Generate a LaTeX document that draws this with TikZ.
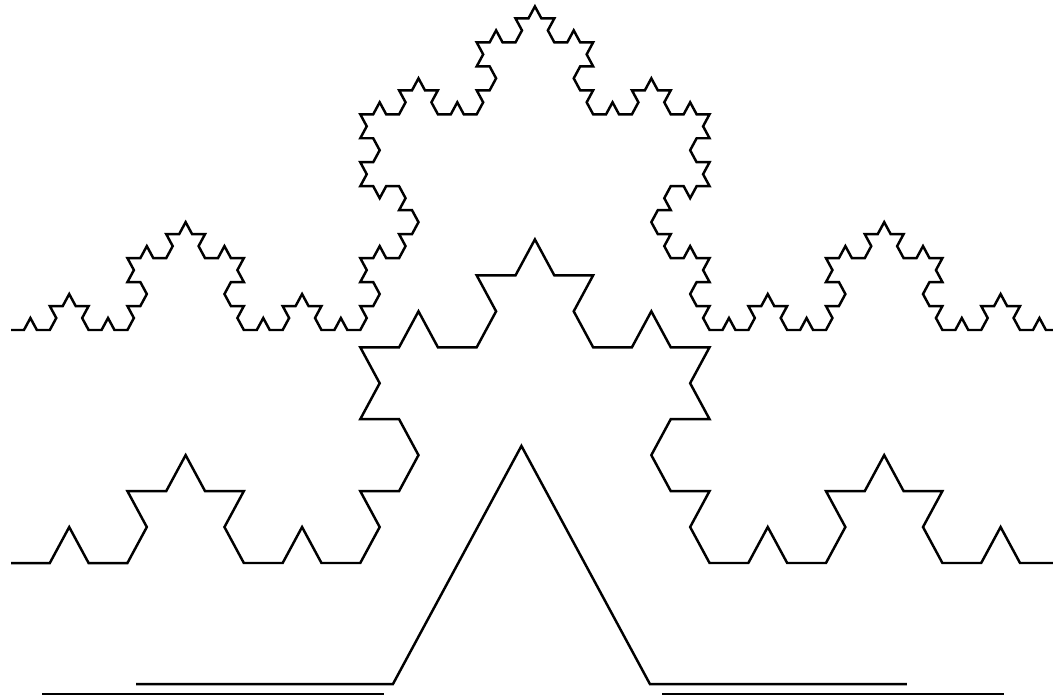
\documentclass[tikz,border=0pt]{standalone}
\usetikzlibrary{lindenmayersystems}

\pgfdeclarelindenmayersystem{Koch curve}{
  \rule{F -> F+F--F+F}
}

\begin{document}
\begin{tikzpicture}[
    x=0.02cm, y=-0.02cm,
    kochline/.style={draw=black, line width=1.4pt, line join=miter},
    groundline/.style={draw=black, line width=1.1pt},
]

% ===== Frame (1 unit = 1 px of the 1053 x 698 picture) =====
\useasboundingbox (0,0) rectangle (1053,698);
\clip (0,0) rectangle (1053,698);

% ===== Layout =====
% curves are a bit taller than equilateral, so stretch y
\def\stretch{1.07}
% base span of the two upper curves: 1048 px from x = 11
\def\xleft{11}

% ===== Top: order 4 =====
\begin{scope}[shift={(\xleft,330)}, yscale=\stretch]
  \draw[kochline, l-system={Koch curve, axiom=F, order=4, step=0.25877cm, angle=60}]
    (0,0) lindenmayer system;
\end{scope}

% ===== Middle: order 3 =====
\begin{scope}[shift={(\xleft,563)}, yscale=\stretch]
  \draw[kochline, l-system={Koch curve, axiom=F, order=3, step=0.77630cm, angle=60}]
    (0,0) lindenmayer system;
\end{scope}

% ===== Bottom: order 1 =====
\begin{scope}[shift={(136,684)}, yscale=\stretch]
  \draw[kochline, l-system={Koch curve, axiom=F, order=1, step=5.14cm, angle=60}]
    (0,0) lindenmayer system;
\end{scope}

% the two pieces of the starting line
\coordinate (gl1) at (42,694);
\coordinate (gr1) at (384,694);
\coordinate (gl2) at (662,694);
\coordinate (gr2) at (1004,694);
\draw[groundline] (gl1) -- (gr1);
\draw[groundline] (gl2) -- (gr2);

\end{tikzpicture}
\end{document}
